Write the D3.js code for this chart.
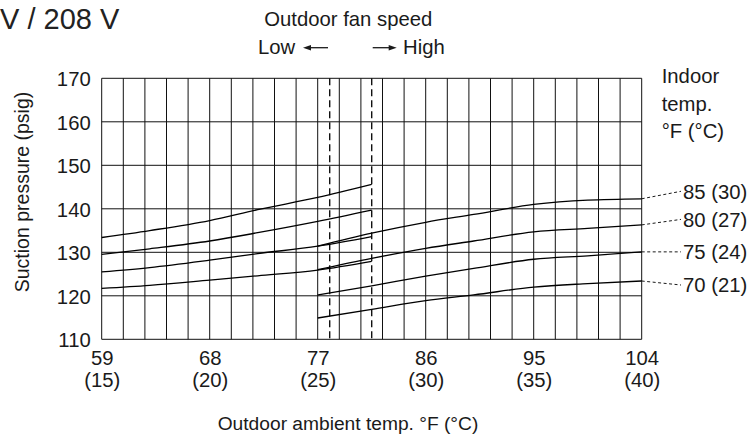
<!DOCTYPE html>
<html><head><meta charset="utf-8">
<script src="https://cdn.jsdelivr.net/npm/d3@7"></script>
<style>
html,body{margin:0;padding:0;background:#fff;}
svg{display:block;font-family:"Liberation Sans",Arial,Helvetica,sans-serif;}
</style></head><body>
<svg id="chart" width="751" height="439"></svg>
<script>
// ---- data ----
const xTicksF = [59, 68, 77, 86, 95, 104];
const xTicksC = ["(15)", "(20)", "(25)", "(30)", "(35)", "(40)"];
const yTicks = [110, 120, 130, 140, 150, 160, 170];
const gridStepsC = [15,16,17,18,19,20,21,22,23,24,25,26,27,28,29,30,31,32,33,34,35,36,37,38,39,40];
const fanSwitchF = [78, 81.5];

const lowX  = [59, 63, 68, 72, 77, 81.5];
const low85 = [133.4, 135.0, 137.3, 139.8, 142.6, 145.6];
const low80 = [129.5, 130.8, 132.6, 134.5, 137.1, 139.7];
const low75 = [125.5, 126.5, 128.2, 129.7, 131.4, 133.6];
const low70 = [121.7, 122.4, 123.6, 124.6, 125.9, 127.9];

const highX  = [77, 81.5, 86, 90, 95, 99.5, 104];
const high85 = [131.4, 134.4, 136.9, 138.7, 141.0, 142.0, 142.3];
const high80 = [126.0, 128.6, 130.9, 132.6, 134.7, 135.5, 136.3];
const high75 = [120.2, 122.3, 124.5, 126.3, 128.4, 129.2, 130.1];
const high70 = [114.9, 116.9, 118.9, 120.2, 122.0, 122.8, 123.4];

const indoorLabels = ["85 (30)", "80 (27)", "75 (24)", "70 (21)"];
const titleText = "V / 208 V";
const fanTitle = "Outdoor fan speed";
const yTitle = "Suction pressure (psig)";
const xTitle = "Outdoor ambient temp. \u00B0F (\u00B0C)";
const rightTitle = ["Indoor", "temp.", "\u00B0F (\u00B0C)"];

// ---- layout ----
const L = 101.7, R = 641.7, T = 78.3, B = 339.3;
const FS = 20.3;
const ink = "#1a1a1a";
const svg = d3.select("#chart");
const x = d3.scaleLinear().domain([59, 104]).range([L, R]);
const y = d3.scaleLinear().domain([110, 170]).range([B, T]);
const cToF = c => c * 1.8 + 32;

// grid
const g = svg.append("g");
g.selectAll("line.v").data(gridStepsC).join("line")
  .attr("x1", d => x(cToF(d))).attr("x2", d => x(cToF(d)))
  .attr("y1", T).attr("y2", B).attr("stroke", "#111").attr("stroke-width", 1);
g.selectAll("line.h").data(yTicks).join("line")
  .attr("x1", L).attr("x2", R)
  .attr("y1", d => y(d)).attr("y2", d => y(d)).attr("stroke", "#111").attr("stroke-width", 1);

// fan switch dashed lines
g.selectAll("line.fan").data(fanSwitchF).join("line")
  .attr("x1", d => x(d)).attr("x2", d => x(d))
  .attr("y1", T).attr("y2", B)
  .attr("stroke", "#111").attr("stroke-width", 1.4).attr("stroke-dasharray", "7,4");

// curves
const line = d3.line().x(d => x(d[0])).y(d => y(d[1])).curve(d3.curveMonotoneX);
const lows = [low85, low80, low75, low70];
const highs = [high85, high80, high75, high70];
lows.forEach(s => {
  svg.append("path").datum(lowX.map((v, i) => [v, s[i]]))
    .attr("d", line).attr("fill", "none").attr("stroke", "#000").attr("stroke-width", 1.3);
});
highs.forEach(s => {
  svg.append("path").datum(highX.map((v, i) => [v, s[i]]))
    .attr("d", line).attr("fill", "none").attr("stroke", "#000").attr("stroke-width", 1.3);
});

// y axis labels
const yAxis = d3.axisLeft(y).tickValues(yTicks).tickSize(0).tickPadding(0);
const ya = svg.append("g").attr("transform", `translate(${L - 11},0)`).call(yAxis);
ya.select(".domain").remove();
ya.selectAll("text").attr("font-size", FS).attr("fill", ink)
  .attr("font-family", "'Liberation Sans',Arial,sans-serif").attr("dy", "0.36em");

// x axis labels (two lines)
const xAxis = d3.axisBottom(x).tickValues(xTicksF).tickSize(0).tickPadding(0);
const xa = svg.append("g").attr("transform", `translate(0,${B})`).call(xAxis);
xa.select(".domain").remove();
xa.selectAll("text").attr("font-size", FS).attr("fill", ink)
  .attr("font-family", "'Liberation Sans',Arial,sans-serif")
  .attr("y", 0).attr("dy", null)
  .each(function(d, i) {
    const t = d3.select(this);
    t.text(null);
    t.append("tspan").attr("x", 0).attr("y", 25.7).text(d);
    t.append("tspan").attr("x", 0).attr("y", 48).text(xTicksC[i]);
  });

// indoor labels with dashed leaders
const labelOffsets = [-7.5, -5.5, 0, 4];
highs.forEach((s, i) => {
  const y0 = y(s[s.length - 1]);
  const y1 = y0 + labelOffsets[i];
  svg.append("line").attr("x1", R).attr("y1", y0).attr("x2", 681).attr("y2", y1)
    .attr("stroke", "#000").attr("stroke-width", 0.9).attr("stroke-dasharray", "3,2.5");
  svg.append("text").attr("x", 683).attr("y", y1).attr("dy", "0.36em")
    .attr("font-size", FS).attr("fill", ink).text(indoorLabels[i]);
});

// titles
svg.append("text").attr("x", 0).attr("y", 28.5).attr("font-size", 29).attr("fill", "#222").text(titleText);
svg.append("text").attr("x", 348.3).attr("y", 26).attr("text-anchor", "middle")
  .attr("font-size", FS).attr("fill", ink).text(fanTitle);
svg.append("text").attr("x", 258).attr("y", 54).attr("font-size", FS).attr("fill", ink).text("Low");
svg.append("text").attr("x", 403).attr("y", 54).attr("font-size", FS).attr("fill", ink).text("High");

// arrows
function arrow(x1, x2, yy) {
  const dir = Math.sign(x2 - x1);
  svg.append("line").attr("x1", x1).attr("x2", x2 - dir * 6).attr("y1", yy).attr("y2", yy)
    .attr("stroke", ink).attr("stroke-width", 1.3);
  svg.append("path")
    .attr("d", `M${x2},${yy} L${x2 - dir * 8},${yy - 2.8} L${x2 - dir * 8},${yy + 2.8} Z`)
    .attr("fill", ink);
}
arrow(328, 303, 47.7);
arrow(372.7, 396.7, 47.7);

svg.append("text")
  .attr("transform", `translate(29,192) rotate(-90)`)
  .attr("text-anchor", "middle").attr("font-size", 19.5).attr("fill", ink).text(yTitle);

svg.append("text").attr("x", 348).attr("y", 430).attr("text-anchor", "middle")
  .attr("font-size", 19.2).attr("fill", ink).text(xTitle);

rightTitle.forEach((t, i) => {
  svg.append("text").attr("x", 661.7).attr("y", 83 + i * 27.5)
    .attr("font-size", FS).attr("fill", ink).text(t);
});
</script>
</body></html>
